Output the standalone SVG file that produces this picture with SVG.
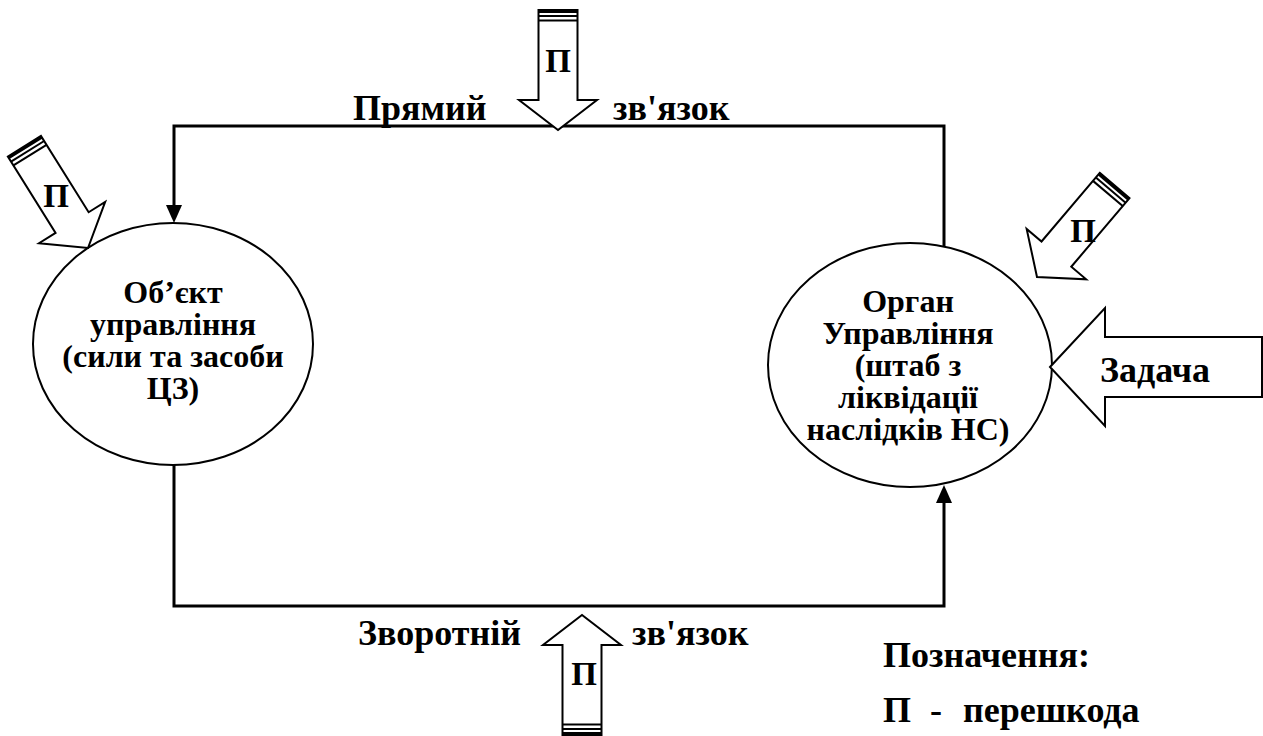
<svg xmlns="http://www.w3.org/2000/svg" xmlns:xlink="http://www.w3.org/1999/xlink" width="1263" height="736" viewBox="0 0 1263 736">
  <style>
    text { font-family: "Liberation Serif", "Times New Roman", Tinos, "DejaVu Serif", serif; font-weight: bold; fill: #000; }
    .lbl { font-size: 36px; }
    .node-txt { font-size: 32px; text-anchor: middle; }
    .p { font-size: 33px; text-anchor: middle; }
    .ell { fill: #fff; stroke: #000; stroke-width: 2; }
    .wire { fill: none; stroke: #000; stroke-width: 3; }
    .head { fill: #000; stroke: none; }
    .block { fill: #fff; stroke: #000; stroke-width: 2; stroke-linejoin: miter; }
  </style>
  <defs>
    <!-- hollow interference arrow, tip at origin, pointing along +y, striped tail -->
    <g id="hollow-arrow">
      <polygon class="block" points="-19.5,-120 19.5,-120 19.5,-30 39,-30 0,0 -39,-30 -19.5,-30"/>
      <line x1="-19.5" y1="-118.5" x2="19.5" y2="-118.5" stroke="#000" stroke-width="3"/>
      <line x1="-19.5" y1="-114" x2="19.5" y2="-114" stroke="#000" stroke-width="2"/>
      <line x1="-19.5" y1="-109.5" x2="19.5" y2="-109.5" stroke="#000" stroke-width="2"/>
    </g>
  </defs>

  <rect width="1263" height="736" fill="#fff"/>

  <!-- feedback loop connectors -->
  <g id="connectors">
    <polyline class="wire" points="944,246 944,126 174,126 174,206"/>
    <polygon class="head" points="174,223 166,205 182,205"/>
    <polyline class="wire" points="174,465 174,606 944,606 944,500"/>
    <polygon class="head" points="944,485 936,503 952,503"/>
  </g>

  <!-- managed object -->
  <g id="node-object">
    <ellipse class="ell" cx="173" cy="344" rx="140" ry="121"/>
    <text class="node-txt" x="173" y="303" font-family="Liberation Serif, serif">Об’єкт</text>
    <text class="node-txt" x="173" y="335" font-family="Liberation Serif, serif">управління</text>
    <text class="node-txt" x="173" y="367" font-family="Liberation Serif, serif">(сили та засоби</text>
    <text class="node-txt" x="173" y="399" font-family="Liberation Serif, serif">ЦЗ)</text>
  </g>

  <!-- control body -->
  <g id="node-control">
    <ellipse class="ell" cx="910" cy="365" rx="142" ry="122"/>
    <text class="node-txt" x="908" y="312">Орган</text>
    <text class="node-txt" x="908" y="344">Управління</text>
    <text class="node-txt" x="908" y="376">(штаб з</text>
    <text class="node-txt" x="908" y="408">ліквідації</text>
    <text class="node-txt" x="908" y="440">наслідків НС)</text>
  </g>

  <!-- task input -->
  <g id="node-task">
    <polygon class="block" points="1050,367 1105,308 1105,337 1262,337 1262,397 1105,397 1105,426"/>
    <text class="lbl" x="1100" y="382">Задача</text>
  </g>

  <!-- interference arrows -->
  <g id="noise-top">
    <use xlink:href="#hollow-arrow" href="#hollow-arrow" transform="translate(558,130)"/>
    <text class="p" x="558" y="72">П</text>
  </g>
  <g id="noise-bottom">
    <use xlink:href="#hollow-arrow" href="#hollow-arrow" transform="translate(582,615) rotate(180)"/>
    <text class="p" x="584" y="685">П</text>
  </g>
  <g id="noise-left">
    <use xlink:href="#hollow-arrow" href="#hollow-arrow" transform="translate(88,248) rotate(-32)"/>
    <text class="p" x="56" y="207">П</text>
  </g>
  <g id="noise-right">
    <use xlink:href="#hollow-arrow" href="#hollow-arrow" transform="translate(1037,277) rotate(40.3)"/>
    <text class="p" x="1083" y="242">П</text>
  </g>

  <!-- link labels -->
  <g id="labels">
    <text class="lbl" x="353" y="120">Прямий</text>
    <text class="lbl" x="613" y="120">зв'язок</text>
    <text class="lbl" x="358" y="645">Зворотній</text>
    <text class="lbl" x="632" y="645">зв'язок</text>
  </g>

  <!-- legend -->
  <g id="legend">
    <text class="lbl" x="883" y="667">Позначення:</text>
    <text class="lbl" y="722"><tspan x="883">П</tspan><tspan x="930">-</tspan><tspan x="963">перешкода</tspan></text>
  </g>
</svg>
